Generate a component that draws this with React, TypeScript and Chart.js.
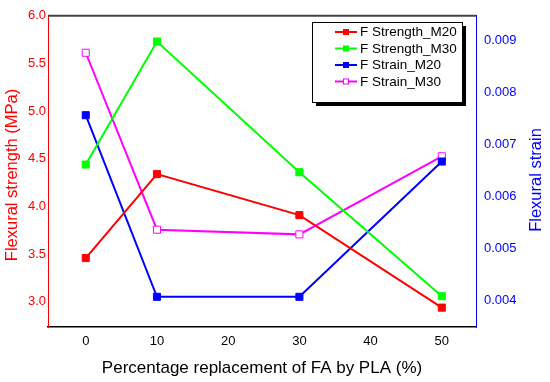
import React, { useEffect, useRef } from "react";
import { Chart, registerables } from "chart.js";

Chart.register(...registerables);

const xValues = [0, 10, 30, 50];
const xTicks = [0, 10, 20, 30, 40, 50];
const strengthM20 = [3.46, 4.34, 3.91, 2.94];
const strengthM30 = [4.44, 5.73, 4.36, 3.06];
const strainM20 = [0.00756, 0.00407, 0.00407, 0.00667];
const strainM30 = [0.00876, 0.00536, 0.00527, 0.00677];
const leftTicks = [3.0, 3.5, 4.0, 4.5, 5.0, 5.5, 6.0];
const rightTicks = [0.004, 0.005, 0.006, 0.007, 0.008, 0.009];
const leftTitle = "Flexural strength (MPa)";
const rightTitle = "Flexural strain";
const xTitle = "Percentage replacement of FA by PLA (%)";

const FONT = "'Liberation Sans', Arial, sans-serif";

const seriesMeta = [
  { label: "F Strength_M20", data: strengthM20, color: "#ff0000", axis: "y", hollow: false },
  { label: "F Strength_M30", data: strengthM30, color: "#00ff00", axis: "y", hollow: false },
  { label: "F Strain_M20", data: strainM20, color: "#0000ff", axis: "y1", hollow: false },
  { label: "F Strain_M30", data: strainM30, color: "#ff00ff", axis: "y1", hollow: true },
];

const framePlugin = {
  id: "frameAndLegend",
  afterDatasetsDraw(chart: any) {
    const { ctx, chartArea } = chart;
    ctx.save();
    // top border
    ctx.strokeStyle = "#444444";
    ctx.lineWidth = 2;
    ctx.beginPath();
    ctx.moveTo(chartArea.left, chartArea.top);
    ctx.lineTo(chartArea.right, chartArea.top);
    ctx.stroke();

    // y-axis titles (both read bottom-to-top)
    ctx.font = `16.5px ${FONT}`;
    ctx.textAlign = "center";
    ctx.textBaseline = "middle";
    ctx.save();
    ctx.translate(12, 175);
    ctx.rotate(-Math.PI / 2);
    ctx.fillStyle = "#ff0000";
    ctx.fillText(leftTitle, 0, 0);
    ctx.restore();
    ctx.save();
    ctx.translate(536, 180);
    ctx.rotate(-Math.PI / 2);
    ctx.fillStyle = "#0000ff";
    ctx.fillText(rightTitle, 0, 0);
    ctx.restore();

    // legend box
    const bx = 312, by = 22, bw = 150, bh = 80;
    ctx.fillStyle = "#000000";
    ctx.fillRect(bx + 4, by + 4, bw, bh);
    ctx.fillStyle = "#ffffff";
    ctx.fillRect(bx, by, bw, bh);
    ctx.strokeStyle = "#000000";
    ctx.lineWidth = 1;
    ctx.strokeRect(bx + 0.5, by + 0.5, bw, bh);

    ctx.font = `13.5px ${FONT}`;
    ctx.textBaseline = "middle";
    ctx.textAlign = "left";
    chart.data.datasets.forEach((ds: any, i: number) => {
      const y = 32 + i * 16.5;
      ctx.strokeStyle = ds.borderColor;
      ctx.lineWidth = 2;
      ctx.beginPath();
      ctx.moveTo(335, y);
      ctx.lineTo(357, y);
      ctx.stroke();
      const hollow = seriesMeta[i].hollow;
      ctx.fillStyle = hollow ? "#ffffff" : ds.borderColor;
      ctx.fillRect(343, y - 3, 6, 6);
      if (hollow) {
        ctx.lineWidth = 1;
        ctx.strokeRect(343.5, y - 2.5, 5, 5);
      }
      ctx.fillStyle = "#000000";
      ctx.fillText(ds.label, 360, y + 0.5);
    });
    ctx.restore();
  },
};

export default function App() {
  const ref = useRef<HTMLCanvasElement | null>(null);

  useEffect(() => {
    if (!ref.current) return;
    const chart = new Chart(ref.current, {
      type: "line",
      data: {
        datasets: seriesMeta.map((s) => ({
          label: s.label,
          data: xValues.map((x, i) => ({ x, y: s.data[i] })),
          borderColor: s.color,
          backgroundColor: s.hollow ? "#ffffff" : s.color,
          pointBorderColor: s.color,
          pointBackgroundColor: s.hollow ? "#ffffff" : s.color,
          pointStyle: "rect",
          pointRadius: 5,
          pointBorderWidth: 1,
          borderWidth: 2,
          tension: 0,
          yAxisID: s.axis,
        })),
      },
      options: {
        responsive: false,
        animation: false,
        layout: { padding: { top: 13, left: 0, right: 0, bottom: 0 } },
        plugins: {
          legend: { display: false },
          tooltip: { enabled: false },
        },
        scales: {
          x: {
            type: "linear",
            position: "bottom",
            min: -5.3,
            max: 54.8,
            afterBuildTicks: (s: any) => {
              s.ticks = xTicks.map((v) => ({ value: v }));
            },
            afterFit: (s: any) => {
              s.height = 55;
            },
            grid: { display: false, drawTicks: false },
            border: { display: true, color: "#000000", width: 1.5 },
            ticks: {
              color: "#000000",
              padding: 7,
              font: { family: FONT, size: 13 },
              callback: (v: any) => String(v),
            },
            title: {
              display: true,
              text: xTitle,
              color: "#000000",
              font: { family: FONT, size: 17 },
              padding: { top: 0, bottom: 3 },
            },
          },
          y: {
            type: "linear",
            position: "left",
            min: 2.737,
            max: 6.0,
            afterBuildTicks: (s: any) => {
              s.ticks = leftTicks.map((v) => ({ value: v }));
            },
            afterFit: (s: any) => {
              s.width = 48;
            },
            grid: { display: false, drawTicks: false },
            border: { display: true, color: "#ff0000", width: 1 },
            ticks: {
              color: "#ff0000",
              padding: 2,
              font: { family: FONT, size: 13 },
              callback: (v: any) => Number(v).toFixed(1),
            },
            title: { display: false },
          },
          y1: {
            type: "linear",
            position: "right",
            min: 0.00349,
            max: 0.00947,
            afterBuildTicks: (s: any) => {
              s.ticks = rightTicks.map((v) => ({ value: v }));
            },
            afterFit: (s: any) => {
              s.width = 74;
            },
            grid: { display: false, drawTicks: false },
            border: { display: true, color: "#0000ff", width: 1 },
            ticks: {
              color: "#0000ff",
              padding: 8,
              font: { family: FONT, size: 13 },
              callback: (v: any) => Number(v).toFixed(3),
            },
            title: { display: false },
          },
        },
      },
      plugins: [framePlugin],
    } as any);
    return () => chart.destroy();
  }, []);

  return (
    <div style={{ position: "absolute", left: 0, top: 0, width: 550, height: 382, background: "#ffffff" }}>
      <canvas ref={ref} width={550} height={382} />
    </div>
  );
}
